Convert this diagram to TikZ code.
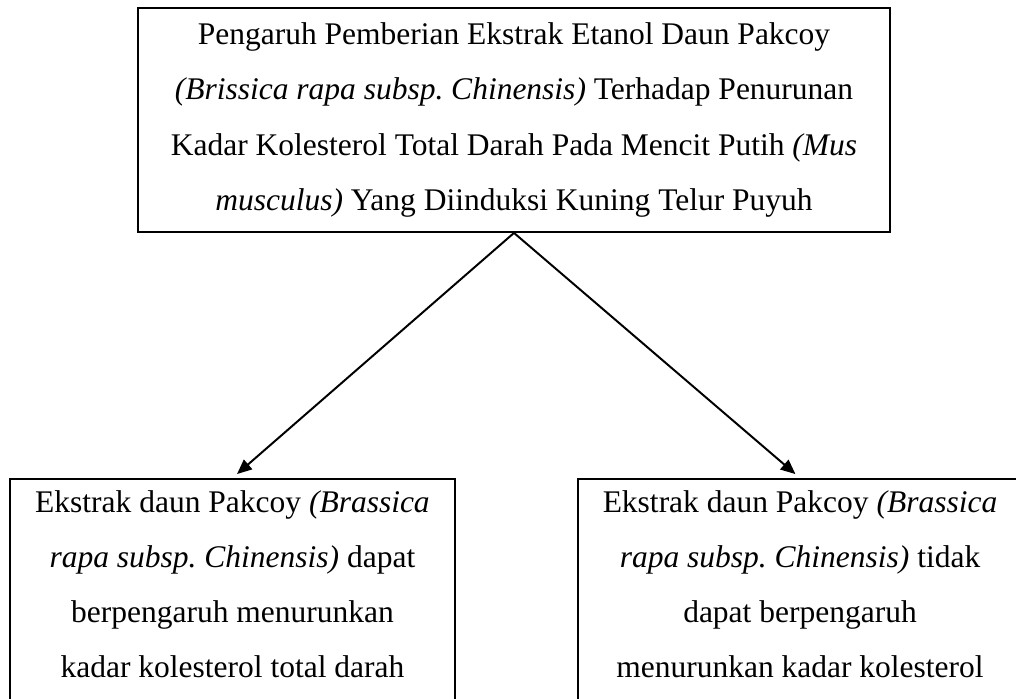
\documentclass[tikz,border=0pt]{standalone}
\usepackage{fontspec}
\setmainfont{Liberation Serif}
\usetikzlibrary{arrows.meta,positioning}
\tikzset{
  % kotak teks
  panel/.style={draw,line width=0.75pt,inner sep=0pt,align=center},
  panelteks/.style={inner sep=0pt,align=center},
  % panah cabang
  cabang/.style={line width=0.75pt,-{Triangle[length=5.6pt,width=4.8pt]}},
}

\begin{document}
\begin{tikzpicture}[
  x=0.381pt,y=-0.381pt,
  every node/.style={font=\fontsize{12}{21}\selectfont},
]
%% batas gambar: kotak bawah terpotong di tepi bawah (dan kanan)
\useasboundingbox (0,0) rectangle (1016,699);
\clip (0,0) rectangle (1016,699);

% judul penelitian
\node[panel,minimum width=286.5pt,minimum height=85.3pt] (judul) at (514,120)
  {Pengaruh Pemberian Ekstrak Etanol Daun Pakcoy\\
   \textit{(Brissica rapa subsp.\ Chinensis)} Terhadap Penurunan\\
   Kadar Kolesterol Total Darah Pada Mencit Putih \textit{(Mus}\\
   \textit{musculus)} Yang Diinduksi Kuning Telur Puyuh};

%% kotak hipotesis (kiri dan kanan)
\node[panel,anchor=north,minimum width=169.5pt,minimum height=114pt] (kiri) at (232.5,478) {};
\node[panel,anchor=north,minimum width=169.5pt,minimum height=114pt] (kanan) at (800,478) {};

\node[panelteks,anchor=north] (kiriteks) at ([yshift=-4.6pt]kiri.north)
  {Ekstrak daun Pakcoy \textit{(Brassica}\\
   \textit{rapa subsp.\ Chinensis)} dapat\\
   berpengaruh menurunkan\\
   kadar kolesterol total darah};
\node[panelteks,anchor=north] (kananteks) at ([yshift=-4.6pt]kanan.north)
  {Ekstrak daun Pakcoy \textit{(Brassica}\\
   \textit{rapa subsp.\ Chinensis)} tidak\\
   dapat berpengaruh\\
   menurunkan kadar kolesterol};

% panah dari judul ke kedua hipotesis
\draw[cabang,shorten >=2.3pt] (judul.south) -- (kiri.north);
\draw[cabang,shorten >=2.3pt] (judul.south) -- (kanan.north);
\end{tikzpicture}
\end{document}
